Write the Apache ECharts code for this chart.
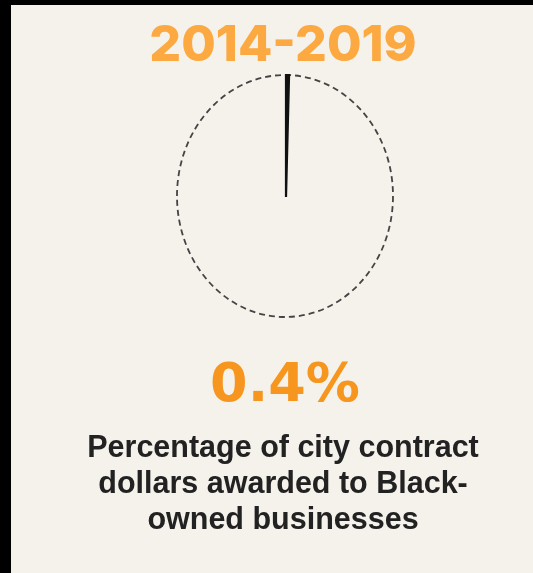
<!DOCTYPE html>
<html>
<head>
<meta charset="utf-8">
<script src="https://cdn.jsdelivr.net/npm/echarts@6/dist/echarts.min.js"></script>
<style>
html,body{margin:0;padding:0;background:#000;}
#chart{position:absolute;left:0;top:0;width:533px;height:573px;}
</style>
</head>
<body>
<div id="chart"></div>
<script>
var periodLabel = '2014-2019';
var shareValues = [0.4];
var shareNames = ['Percentage of city contract\ndollars awarded to Black-\nowned businesses'];
var totalPercent = 100;

var chart = echarts.init(document.getElementById('chart'), null, {renderer: 'canvas'});
chart.setOption({
  animation: false,
  backgroundColor: '#F5F1EB',
  title: [
    {
      text: periodLabel,
      left: 283, top: 18, padding: 0, textAlign: 'center',
      textStyle: {color: '#FBA940', fontFamily: 'Inter', fontWeight: 800, fontSize: 50, lineHeight: 56}
    },
    {
      text: shareValues[0] + '%',
      left: 285, top: 357, padding: 0, textAlign: 'center',
      textStyle: {color: '#F7961F', fontFamily: 'DejaVu Sans', fontWeight: 'bold', fontSize: 54, lineHeight: 60}
    },
    {
      text: shareNames[0],
      left: 283, top: 431, padding: 0, textAlign: 'center',
      textStyle: {color: '#222222', fontFamily: 'Liberation Sans', fontWeight: 'bold', fontSize: 30.5, lineHeight: 36}
    }
  ],
  graphic: [
    {type: 'rect', left: 0, top: 0, shape: {width: 11, height: 573}, style: {fill: '#000'}, z: 100},
    {type: 'rect', left: 0, top: 0, shape: {width: 533, height: 5}, style: {fill: '#000'}, z: 100},
    {type: 'ellipse', shape: {cx: 285, cy: 196, rx: 108, ry: 121}, style: {fill: 'none', stroke: '#444', lineWidth: 1.8, lineDash: [6, 4]}, z: 1}
  ],
  series: [{
    type: 'pie',
    center: [286, 197],
    radius: [0, 122],
    startAngle: 90,
    clockwise: true,
    minAngle: 0,
    silent: true,
    label: {show: false},
    labelLine: {show: false},
    emphasis: {disabled: true},
    data: [
      {value: shareValues[0], name: shareNames[0], itemStyle: {color: '#111', borderColor: '#111', borderWidth: 2.2, borderJoin: 'miter'}},
      {value: totalPercent - shareValues[0], name: 'rest', itemStyle: {color: 'rgba(0,0,0,0)', borderWidth: 0}}
    ]
  }]
});
</script>
</body>
</html>
